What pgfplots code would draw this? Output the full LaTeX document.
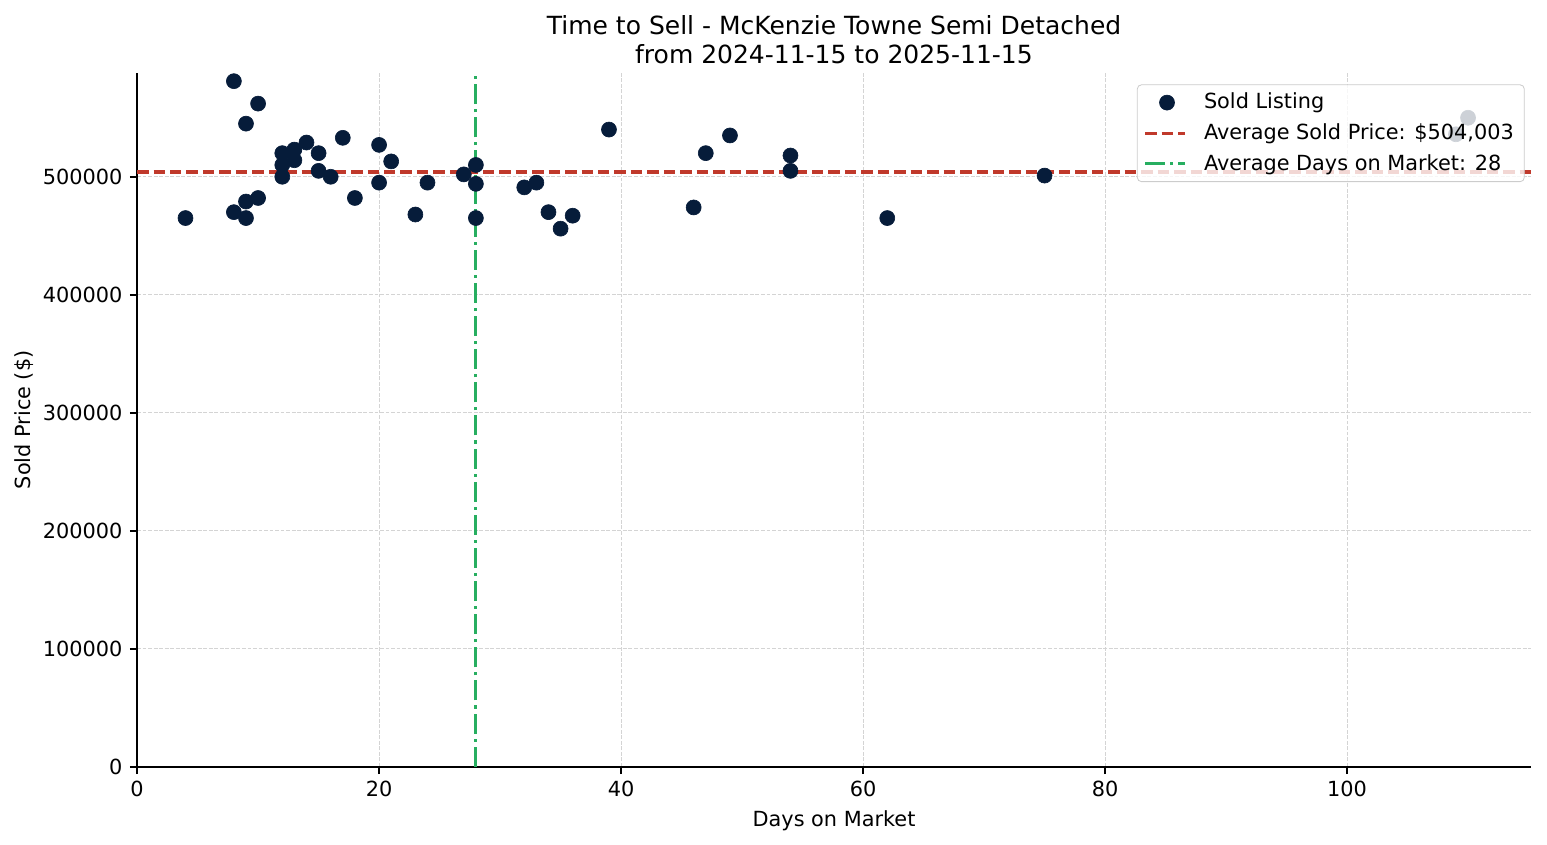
\documentclass[border=0pt]{standalone}
\usepackage{pgfplots}
\pgfplotsset{compat=1.18}
\usepackage{fontspec}
\setmainfont{DejaVu Sans}

\definecolor{dotblue}{HTML}{061C3A}
\definecolor{avgred}{HTML}{C0392B}
\definecolor{avggreen}{HTML}{27AE60}

\pgfplotsset{
  linelegend/.style={legend image code/.code={
      \draw[##1, line width=1.5pt, draw opacity=1] (0pt,0pt) -- (19.2pt,0pt);
      \path (25.5pt,0pt);
    }},
  dotlegend/.style={legend image code/.code={
      \path (0pt,0pt) (25.5pt,0pt);
      \draw[##1, fill opacity=1, draw opacity=1] plot coordinates {(10.5pt,0pt)};
    }},
}

\begin{document}
\begin{tikzpicture}
  \begin{axis}[
      scale only axis,
      width=669pt, height=333pt,
      xmin=0, xmax=115.2,
      ymin=0, ymax=588000,
      xtick={0,20,40,60,80,100},
      ytick={0,100000,200000,300000,400000,500000},
      scaled y ticks=false,
      yticklabel style={/pgf/number format/fixed, /pgf/number format/1000 sep={}},
      /pgf/number format/assume math mode=true,
      axis x line*=bottom, axis y line*=left,
      axis line style={-, line width=0.8pt},
      tick align=outside,
      major tick length=3.5pt,
      tick style={line width=0.8pt, black},
      grid=major,
      major grid style={dash pattern=on 1.85pt off 0.8pt, line width=0.4pt, black!17},
      tick label style={font=\fontsize{10}{12}\selectfont},
      xlabel={Days on Market},
      ylabel={Sold Price (\$)},
      label style={font=\fontsize{10}{12}\selectfont},
      xlabel style={yshift=0.6pt},
      ylabel style={yshift=-2.4pt},
      title={Time to Sell - McKenzie Towne Semi Detached\\from 2024-11-15 to 2025-11-15},
      title style={font=\fontsize{12}{13.6}\selectfont, align=center, yshift=-5pt},
      legend cell align=left,
      legend style={at={(1,1)}, anchor=north east, xshift=-3pt, yshift=-5.5pt,
        font=\fontsize{10}{12}\selectfont, rounded corners=2pt,
        draw=black!20, fill=white, fill opacity=0.8, draw opacity=1, text opacity=1,
        row sep=1.6pt, inner xsep=3pt, inner ysep=2pt},
    ]
    \addplot[only marks, mark=*, mark size=3.6pt, draw=dotblue, fill=dotblue,
      mark options={line width=0.3pt}, dotlegend] coordinates {
      (4,465000) (8,581000) (8,470000) (9,545000) (9,479000) (9,465000)
      (10,562000) (10,482000) (12,520000) (12,510000) (12,500000)
      (13,523000) (13,514000) (14,529000) (15,520000) (15,505000)
      (16,500000) (17,533000) (18,482000) (20,527000) (20,495000)
      (21,513000) (23,468000) (24,495000) (27,502000) (28,510000)
      (28,494000) (28,465000) (32,491000) (33,495000) (34,470000)
      (35,456000) (36,467000) (39,540000) (46,474000) (47,520000)
      (49,535000) (54,518000) (54,505000) (62,465000) (75,501000)
      (109,536000) (110,550000)
    };
    \addlegendentry{Sold Listing}
    \addplot[avgred, line width=1.5pt, dash pattern=on 5.5pt off 2.4pt, linelegend] coordinates {
      (0,504003) (115.2,504003)
    };
    \addlegendentry{Average Sold Price: \$504,003}
    \addplot[avggreen, line width=1.5pt, dash pattern=on 9.6pt off 2.4pt on 1.5pt off 2.4pt, linelegend] coordinates {
      (28,0) (28,588000)
    };
    \addlegendentry{Average Days on Market: 28}
  \end{axis}
  \path (current axis.south west) ++(-65.8pt,-37.4pt);
  \path (current axis.north east) ++(7.7pt,35pt);
\end{tikzpicture}
\end{document}
